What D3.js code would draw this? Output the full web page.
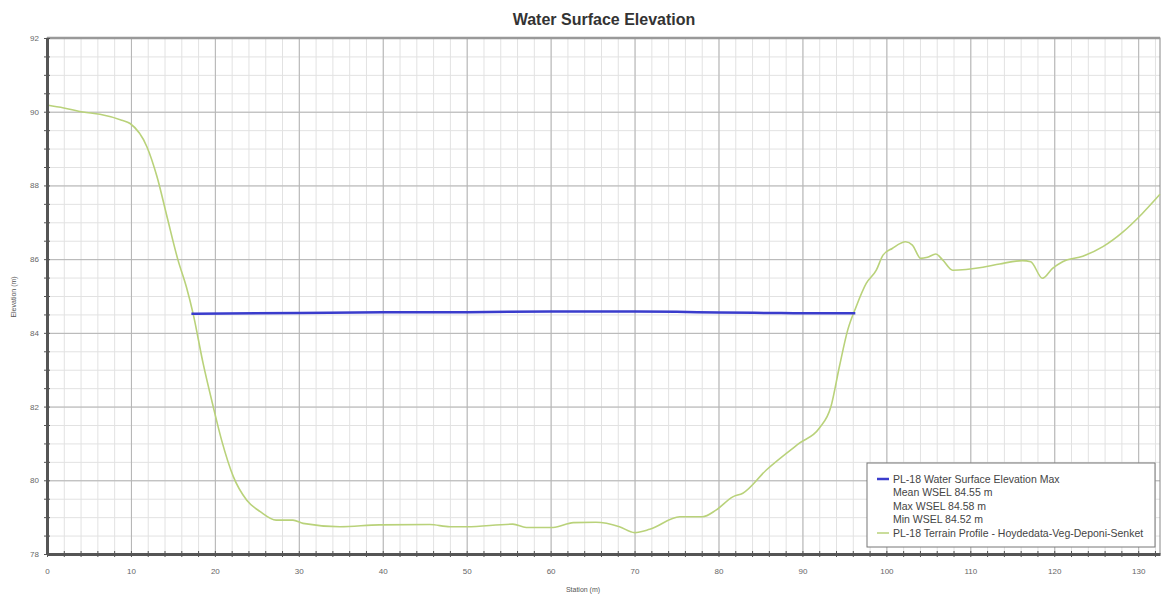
<!DOCTYPE html>
<html>
<head>
<meta charset="utf-8">
<script src="https://cdn.jsdelivr.net/npm/d3@7"></script>
<style>
  body { margin: 0; background: #fff; }
  svg { display: block; font-family: "Liberation Sans", Arial, sans-serif; }
</style>
</head>
<body>
<div id="chart"></div>
<script>
// Станции и отметки рельефа
var terrainStation = [0, 2, 4.3, 6.3, 8.9, 9.9, 11.9, 13.1, 14.3, 15.6, 16.6, 17.4, 18.6, 19.8, 20.8, 22.2, 23.8, 25.4, 27.3, 29.3, 30.5,
  34.9, 39.6, 45.6, 48, 50, 55.5, 57.1, 60.3, 62.7, 65.4, 68.2, 70, 71.8, 75.4, 78.1, 79.7, 81.7, 82.9, 85.7, 89.6, 92, 93.4, 94.4,
  95.4, 96.4, 97.6, 98.8, 99.6, 100.7, 102.3, 103.1, 104.1, 104.9, 105.9, 106.7, 107.9, 109.5, 111.5, 113.5, 116.2, 117.2, 118.6,
  119.8, 121, 123.4, 125.8, 128.2, 130.5, 132.6];
var terrainElev = [90.18, 90.1, 89.99, 89.93, 89.77, 89.68, 89.05, 88.24, 87.15, 85.98, 85.25, 84.53, 83.17, 82.0, 81.09, 80.1, 79.46, 79.15, 78.92, 78.92, 78.83,
  78.74, 78.79, 78.8, 78.74, 78.74, 78.81, 78.72, 78.72, 78.85, 78.86, 78.74, 78.58, 78.67, 79.01, 79.01, 79.19, 79.55, 79.65, 80.28, 81.0, 81.41, 82.0, 83.08,
  84.08, 84.71, 85.34, 85.7, 86.11, 86.29, 86.47, 86.38, 86.02, 86.05, 86.14, 85.98, 85.7, 85.72, 85.78, 85.87, 85.96, 85.93, 85.48,
  85.75, 85.93, 86.08, 86.34, 86.74, 87.24, 87.76];

// Уровень воды (WSE max)
var wselStation = [17.2, 30, 40, 50, 60, 70, 75, 80, 86, 90, 96.3];
var wselElev = [84.52, 84.54, 84.56, 84.56, 84.58, 84.58, 84.57, 84.55, 84.54, 84.53, 84.53];

// Подписи легенды
var legendLabels = ["PL-18 Water Surface Elevation Max", "Mean WSEL 84.55 m", "Max WSEL 84.58 m", "Min WSEL 84.52 m",
  "PL-18 Terrain Profile - Hoydedata-Veg-Deponi-Senket"];

var xMajor = d3.range(0, 131, 10);
var yMajor = d3.range(78, 93, 2);

var W = 1161, H = 597;
var margin = { top: 38, right: 1, bottom: 43, left: 47 }
  , width = W - margin.left - margin.right
  , height = H - margin.top - margin.bottom;

var xScale = d3.scaleLinear().domain([0, 132.6]).range([0, width]);
var yScale = d3.scaleLinear().domain([78, 92]).range([height, 0]);

var svg = d3.select("#chart").append("svg")
  .attr("width", W).attr("height", H);

var g = svg.append("g")
  .attr("transform", "translate(" + margin.left + "," + margin.top + ")");

// мелкая сетка
g.append("g")
  .attr("transform", "translate(0," + height + ")")
  .call(d3.axisBottom(xScale).tickValues(d3.range(0, 133, 2)).tickSize(-height).tickFormat(""))
  .call(function (s) { s.select(".domain").remove(); s.selectAll("line").attr("stroke", "#e2e2e2"); });
g.append("g")
  .call(d3.axisLeft(yScale).tickValues(d3.range(78, 92.01, 0.5)).tickSize(-width).tickFormat(""))
  .call(function (s) { s.select(".domain").remove(); s.selectAll("line").attr("stroke", "#e2e2e2"); });

// крупная сетка
g.append("g")
  .attr("transform", "translate(0," + height + ")")
  .call(d3.axisBottom(xScale).tickValues(xMajor).tickSize(-height).tickFormat(""))
  .call(function (s) { s.select(".domain").remove(); s.selectAll("line").attr("stroke", "#b4b4b4"); });
g.append("g")
  .call(d3.axisLeft(yScale).tickValues(yMajor).tickSize(-width).tickFormat(""))
  .call(function (s) { s.select(".domain").remove(); s.selectAll("line").attr("stroke", "#b4b4b4"); });

// рамка
g.append("rect").attr("width", width).attr("height", height)
  .attr("fill", "none").attr("stroke", "#888").attr("stroke-width", 1);
g.append("line").attr("x1", 0).attr("x2", width).attr("y1", 0).attr("y2", 0)
  .attr("stroke", "#999").attr("stroke-width", 2.5);

// линии
var line = d3.line()
  .x(function (d) { return xScale(d[0]); })
  .y(function (d) { return yScale(d[1]); })
  .curve(d3.curveMonotoneX);

g.append("path")
  .datum(d3.zip(terrainStation, terrainElev))
  .attr("fill", "none").attr("stroke", "#b9d27a").attr("stroke-width", 1.6)
  .attr("d", line);

g.append("path")
  .datum(d3.zip(wselStation, wselElev))
  .attr("fill", "none").attr("stroke", "#3a3ccc").attr("stroke-width", 2.5)
  .attr("d", line);

// оси
var xAxis = g.append("g")
  .attr("transform", "translate(0," + height + ")")
  .call(d3.axisBottom(xScale).tickValues(xMajor).tickSize(0).tickPadding(14));
xAxis.select(".domain").attr("stroke", "#555").attr("stroke-width", 3);
xAxis.selectAll("text").attr("fill", "#666").attr("font-size", 8);
g.append("g")
  .attr("transform", "translate(0," + height + ")")
  .call(d3.axisBottom(xScale).tickValues(d3.range(0, 133, 2)).tickSize(3).tickFormat(""))
  .call(function (s) { s.select(".domain").remove(); s.selectAll("line").attr("stroke", "#555").attr("y1", -3); });

var yAxis = g.append("g")
  .call(d3.axisLeft(yScale).tickValues(yMajor).tickSize(0).tickPadding(8));
yAxis.select(".domain").attr("stroke", "#555").attr("stroke-width", 3);
yAxis.selectAll("text").attr("fill", "#666").attr("font-size", 8);
g.append("g")
  .call(d3.axisLeft(yScale).tickValues(d3.range(78, 92.01, 0.5)).tickSize(3).tickFormat(""))
  .call(function (s) { s.select(".domain").remove(); s.selectAll("line").attr("stroke", "#555").attr("x1", 3); });

// заголовок и подписи осей
svg.append("text").attr("x", 604).attr("y", 25).attr("text-anchor", "middle")
  .attr("font-size", 16).attr("font-weight", "bold").attr("fill", "#333")
  .text("Water Surface Elevation");
svg.append("text").attr("x", 583).attr("y", 592).attr("text-anchor", "middle")
  .attr("font-size", 7).attr("fill", "#555").text("Station (m)");
svg.append("text").attr("transform", "translate(16,297) rotate(-90)").attr("text-anchor", "middle")
  .attr("font-size", 7).attr("fill", "#555").text("Elevation (m)");

// легенда
var lg = svg.append("g").attr("transform", "translate(867,463)");
lg.append("rect").attr("width", 288).attr("height", 84)
  .attr("fill", "#fff").attr("stroke", "#777").attr("stroke-width", 1);
var items = lg.selectAll("g.item").data(legendLabels).enter().append("g")
  .attr("transform", function (d, i) { return "translate(0," + (16 + i * 13.5) + ")"; });
items.append("text").attr("x", 26).attr("y", 3.5).attr("font-size", 10.5).attr("fill", "#444")
  .text(function (d) { return d; });
lg.append("line").attr("x1", 10).attr("x2", 22).attr("y1", 16).attr("y2", 16)
  .attr("stroke", "#3a3ccc").attr("stroke-width", 2.5);
lg.append("line").attr("x1", 10).attr("x2", 22).attr("y1", 16 + 4 * 13.5).attr("y2", 16 + 4 * 13.5)
  .attr("stroke", "#b9d27a").attr("stroke-width", 1.5);
</script>
</body>
</html>
